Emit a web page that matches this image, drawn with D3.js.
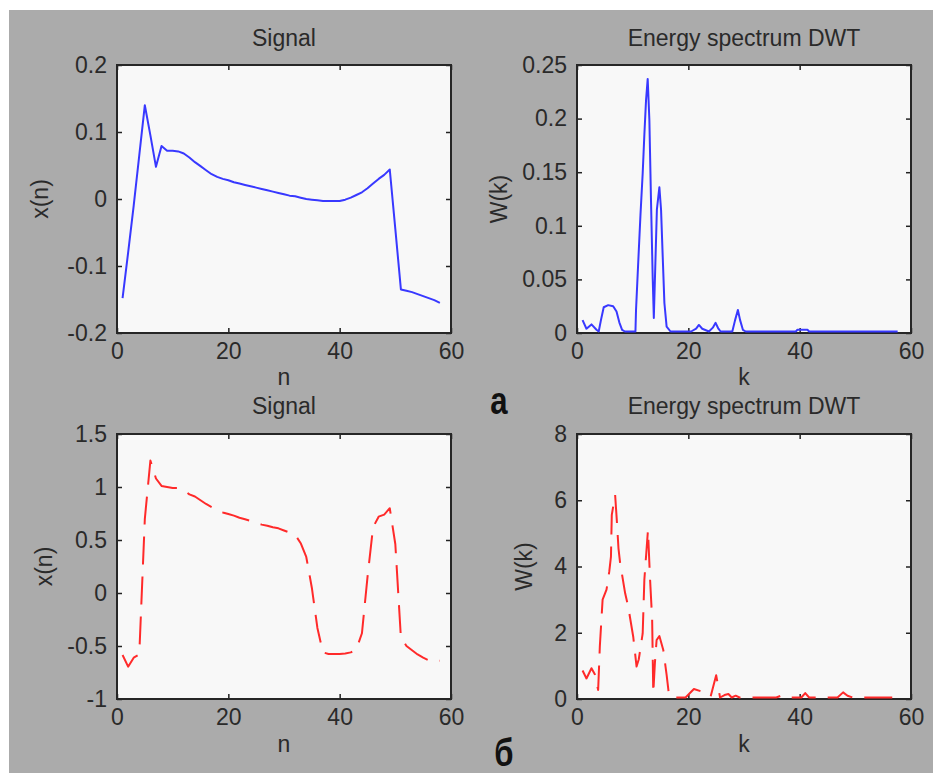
<!DOCTYPE html>
<html>
<head>
<meta charset="utf-8">
<script src="https://cdn.jsdelivr.net/npm/d3@7"></script>
<style>
	body { margin: 0; background: #fff; }
	svg { display: block; font-family: "Liberation Sans", Arial, sans-serif; }
</style>
</head>
<body>
<svg id="fig" width="933" height="773"></svg>
<script>
'use strict';

//Signal (a), one value per sample n = 1..58
var signalA = [-0.148, -0.08, -0.01, 0.065, 0.14, 0.095, 0.048, 0.079, 0.072, 0.072,
	0.071, 0.068, 0.062, 0.055, 0.049, 0.043, 0.037, 0.033, 0.030, 0.028,
	0.025, 0.023, 0.021, 0.019, 0.017, 0.015, 0.013, 0.011, 0.009, 0.007,
	0.005, 0.004, 0.002, 0.0, -0.001, -0.002, -0.003, -0.003, -0.003, -0.003,
	-0.001, 0.002, 0.006, 0.010, 0.016, 0.023, 0.030, 0.036, 0.044, -0.045,
	-0.135, -0.137, -0.139, -0.142, -0.145, -0.148, -0.151, -0.155];

//Signal (б), one value per sample n = 1..58
var signalB = [-0.585, -0.695, -0.61, -0.58, 0.7, 1.25, 1.08, 1.01, 1.0, 0.99,
	0.99, 0.97, 0.93, 0.91, 0.875, 0.84, 0.81, 0.78, 0.76, 0.745,
	0.73, 0.71, 0.695, 0.68, 0.66, 0.645, 0.635, 0.62, 0.61, 0.59,
	0.57, 0.55, 0.47, 0.34, 0.05, -0.33, -0.56, -0.575, -0.575, -0.575,
	-0.57, -0.56, -0.53, -0.38, 0.15, 0.62, 0.72, 0.74, 0.80, 0.46,
	-0.42, -0.50, -0.54, -0.58, -0.61, -0.635, -0.64, -0.64];

//Energy spectrum DWT (a)
var spectrumAK = [1, 1.7, 2.6, 3.5, 3.9, 4.3, 4.8, 5.6, 6.5, 7.1, 7.6, 8.1, 8.6, 10.5,
	10.6, 11.0, 11.4, 11.8, 12.1, 12.4, 12.7, 13.0, 13.3, 13.6, 13.8, 14.05, 14.35,
	14.8, 15.1, 15.4, 15.7, 16.1, 16.8, 20.5, 21.4, 21.9, 22.5, 23.7, 24.4, 24.9,
	25.4, 25.8, 27.9, 28.4, 28.9, 29.3, 29.8, 30.3, 39.3, 39.6, 41.4, 41.7, 57.6];
var spectrumAW = [0.012, 0.004, 0.008, 0.003, 0, 0.012, 0.024, 0.026, 0.025, 0.02, 0.01, 0.003, 0, 0,
	0.021, 0.066, 0.11, 0.149, 0.185, 0.217, 0.237, 0.199, 0.122, 0.051, 0.014, 0.06, 0.115,
	0.136, 0.115, 0.071, 0.028, 0.006, 0, 0, 0.004, 0.0075, 0.004, 0, 0.005, 0.0095,
	0.004, 0, 0, 0.012, 0.0215, 0.012, 0.003, 0, 0, 0.003, 0.003, 0, 0];

//Energy spectrum DWT (б)
var spectrumBK = [1, 1.7, 2.6, 3.2, 3.8, 4.1, 4.6, 5.3, 5.8, 6.1, 6.25, 6.85, 7.15, 7.45,
	7.75, 8.65, 9.2, 10.1, 10.7, 11.1, 11.8, 12.1, 12.4, 12.75, 13.1, 13.5, 13.7, 14.0,
	14.3, 14.8, 15.5, 16.1, 16.5, 17, 19.5, 21.0, 22.5, 24.0, 25.0, 25.7, 26.5, 27.2,
	27.8, 28.5, 29.2, 30, 35.8, 36.7, 37.3, 40.3, 41.0, 41.7, 46.8, 47.8, 48.6, 49.5, 58];
var spectrumBW = [0.86, 0.62, 0.93, 0.75, 0.27, 1.58, 3.0, 3.3, 3.85, 4.3, 5.56, 6.16, 5.4, 4.55,
	4.1, 3.19, 2.79, 1.88, 0.98, 1.2, 1.98, 3.6, 4.3, 5.1, 3.7, 2.4, 0.17, 1.1,
	1.78, 1.9, 1.48, 0.73, 0.15, 0, 0, 0.3, 0.22, 0.07, 0.72, 0.03, 0.12, 0.15,
	0.03, 0.1, 0.02, 0, 0, 0.1, 0, 0, 0.18, 0, 0, 0.2, 0.1, 0, 0];

//Tick labels
var xTicks = [0, 20, 40, 60];
var signalATicks = [-0.2, -0.1, 0, 0.1, 0.2];
var spectrumATicks = [0, 0.05, 0.1, 0.15, 0.2, 0.25];
var signalBTicks = [-1, -0.5, 0, 0.5, 1, 1.5];
var spectrumBTicks = [0, 2, 4, 6, 8];

var svg = d3.select("#fig");
var fontSize = 23;

//Figure background
svg.append("rect")
	.attr("x", 9).attr("y", 10)
	.attr("width", 933 - 9).attr("height", 773 - 10)
	.attr("fill", "#ababab");

var toPoints = function(xs, ys) {
	var pts = [];
	for(var i = 0; i < ys.length; i++)
		pts.push([xs ? xs[i] : i + 1, ys[i]]);
	return pts;
}

var drawPanel = function(p) {
	var x = d3.scaleLinear().domain([0, 60]).range([p.left, p.right]);
	var y = d3.scaleLinear().domain([p.yTicks[0], p.yTicks[p.yTicks.length - 1]]).range([p.bottom, p.top]);
	var fmt = function(d) { return String(d); };

	var g = svg.append("g");

	g.append("rect")
		.attr("x", p.left).attr("y", p.top)
		.attr("width", p.right - p.left).attr("height", p.bottom - p.top)
		.attr("fill", "#f8f8f8");

	//Axes, ticks pointing inside on all four sides
	var axes = [
		{ axis: d3.axisBottom(x).tickFormat(fmt), at: "translate(0," + p.bottom + ")", ticks: xTicks },
		{ axis: d3.axisTop(x).tickFormat(""), at: "translate(0," + p.top + ")", ticks: xTicks },
		{ axis: d3.axisLeft(y).tickFormat(fmt), at: "translate(" + p.left + ",0)", ticks: p.yTicks },
		{ axis: d3.axisRight(y).tickFormat(""), at: "translate(" + p.right + ",0)", ticks: p.yTicks }
	];

	axes.forEach(function(a) {
		var ag = g.append("g")
			.attr("transform", a.at)
			.call(a.axis.tickValues(a.ticks).tickSizeInner(-5).tickSizeOuter(0).tickPadding(10));
		ag.select(".domain").remove();
		ag.selectAll(".tick line").attr("stroke", "#222").attr("stroke-width", 1.5);
		ag.selectAll("text")
			.attr("font-size", fontSize)
			.attr("font-family", null)
			.attr("fill", "#2a2a2a");
	});

	//Axes box
	g.append("rect")
		.attr("x", p.left).attr("y", p.top)
		.attr("width", p.right - p.left).attr("height", p.bottom - p.top)
		.attr("fill", "none")
		.attr("stroke", "#262626")
		.attr("stroke-width", 2);

	//Data line, drawn over the box so the zero runs stay visible
	g.append("path")
		.datum(p.points)
		.attr("fill", "none")
		.attr("stroke", p.color)
		.attr("stroke-width", 2)
		.attr("stroke-linejoin", "round")
		.attr("stroke-dasharray", p.dash || null)
		.attr("d", d3.line()
			.x(function(d) { return x(d[0]); })
			.y(function(d) { return Math.min(y(d[1]), p.bottom - 1.5); }));

	//Title and labels
	g.append("text")
		.attr("x", (p.left + p.right) / 2).attr("y", p.titleY)
		.attr("text-anchor", "middle")
		.attr("font-size", fontSize)
		.attr("fill", "#2a2a2a")
		.text(p.title);

	g.append("text")
		.attr("x", (p.left + p.right) / 2).attr("y", p.xLabelY)
		.attr("text-anchor", "middle")
		.attr("font-size", fontSize)
		.attr("fill", "#2a2a2a")
		.text(p.xLabel);

	g.append("text")
		.attr("transform", "translate(" + p.yLabelX + "," + (p.top + p.bottom) / 2 + ") rotate(-90)")
		.attr("text-anchor", "middle")
		.attr("font-size", fontSize)
		.attr("fill", "#2a2a2a")
		.text(p.yLabel);
}

drawPanel({
	left: 117, right: 451, top: 65, bottom: 333,
	yTicks: signalATicks, points: toPoints(null, signalA), color: "#3838ff",
	title: "Signal", titleY: 46, xLabel: "n", xLabelY: 385, yLabel: "x(n)", yLabelX: 48
});

drawPanel({
	left: 577, right: 911, top: 65, bottom: 333,
	yTicks: spectrumATicks, points: toPoints(spectrumAK, spectrumAW), color: "#3838ff",
	title: "Energy spectrum DWT", titleY: 46, xLabel: "k", xLabelY: 385, yLabel: "W(k)", yLabelX: 507
});

drawPanel({
	left: 117, right: 451, top: 434, bottom: 699,
	yTicks: signalBTicks, points: toPoints(null, signalB), color: "#ff2a2a", dash: "28,12",
	title: "Signal", titleY: 414, xLabel: "n", xLabelY: 752, yLabel: "x(n)", yLabelX: 52
});

drawPanel({
	left: 577, right: 911, top: 434, bottom: 699,
	yTicks: spectrumBTicks, points: toPoints(spectrumBK, spectrumBW), color: "#ff2a2a", dash: "28,12",
	title: "Energy spectrum DWT", titleY: 414, xLabel: "k", xLabelY: 752, yLabel: "W(k)", yLabelX: 532
});

//Subfigure letters
var letters = [{ t: "a", x: 499, y: 414 }, { t: "б", x: 504, y: 766 }];
svg.selectAll(".letter")
	.data(letters)
	.enter().append("text")
	.attr("class", "letter")
	.attr("transform", function(d) { return "translate(" + d.x + "," + d.y + ") scale(0.82,1)"; })
	.attr("text-anchor", "middle")
	.attr("font-size", 38)
	.attr("font-weight", "bold")
	.attr("fill", "#111")
	.text(function(d) { return d.t; });
</script>
</body>
</html>
